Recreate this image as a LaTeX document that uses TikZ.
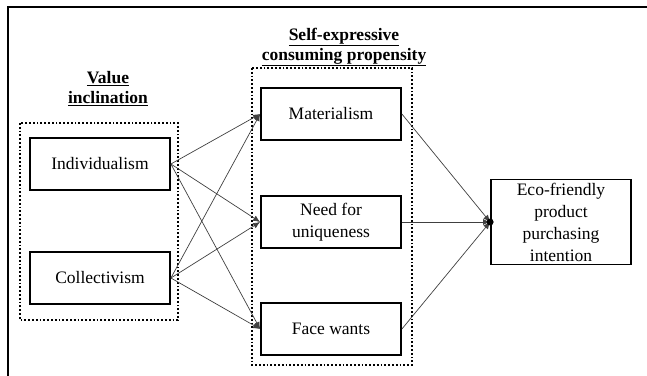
\documentclass[tikz,border=0pt]{standalone}
\usepackage{fontspec}
\setmainfont{Liberation Serif}
\usetikzlibrary{arrows.meta}
\begin{document}
\begin{tikzpicture}[x=1pt,y=-1pt,
  box/.style={draw=black,line width=1.8pt,minimum width=140pt,minimum height=52pt,inner sep=0pt,align=center,font=\fontsize{17.5}{22}\selectfont},
  grp/.style={draw=black,line width=1.8pt,dotted},
  lbl/.style={font=\fontsize{17.5}{20}\selectfont\bfseries,align=center},
  con/.style={draw=black!75,line width=0.7pt,-{Latex[length=7pt,width=6pt]}},
  con2/.style={draw=black!75,line width=0.7pt}]
\useasboundingbox (0,0) rectangle (647,375);
% outer frame
\draw[line width=2pt] (648,7) -- (8,7) -- (8,376);
% groups
\draw[grp] (20,123) rectangle (178,320);
\draw[grp] (252,68) rectangle (412,365);
% labels
\node[lbl] (vl) at (108,89) {\underline{Value}\\\underline{inclination}};
\node[lbl] (sl) at (344,47) {\underline{Self-expressive}\\\underline{consuming propensity}};
% boxes
\node[box] (ind) at (100,164) {Individualism};
\node[box] (col) at (100,278) {Collectivism};
\node[box] (mat) at (331,114) {Materialism};
\node[box] (need) at (331,222) {Need for\\uniqueness};
\node[box] (face) at (331,329) {Face wants};
\node[box,minimum height=85pt] (eco) at (561,222) {Eco-friendly\\product\\purchasing\\intention};
% connectors
\coordinate (io) at (ind.east);
\coordinate (co) at (col.east);
\draw[con] (io) -- (mat.west);
\draw[con] (io) -- (need.west);
\draw[con] (io) -- (face.west);
\draw[con] (co) -- (mat.west);
\draw[con] (co) -- (need.west);
\draw[con] (co) -- (face.west);
\draw[con] (mat.east) -- (eco.west);
\draw[con] (need.east) -- (eco.west);
\draw[con] (face.east) -- (eco.west);
\fill (eco.west) circle (3.5pt);
\end{tikzpicture}
\end{document}
